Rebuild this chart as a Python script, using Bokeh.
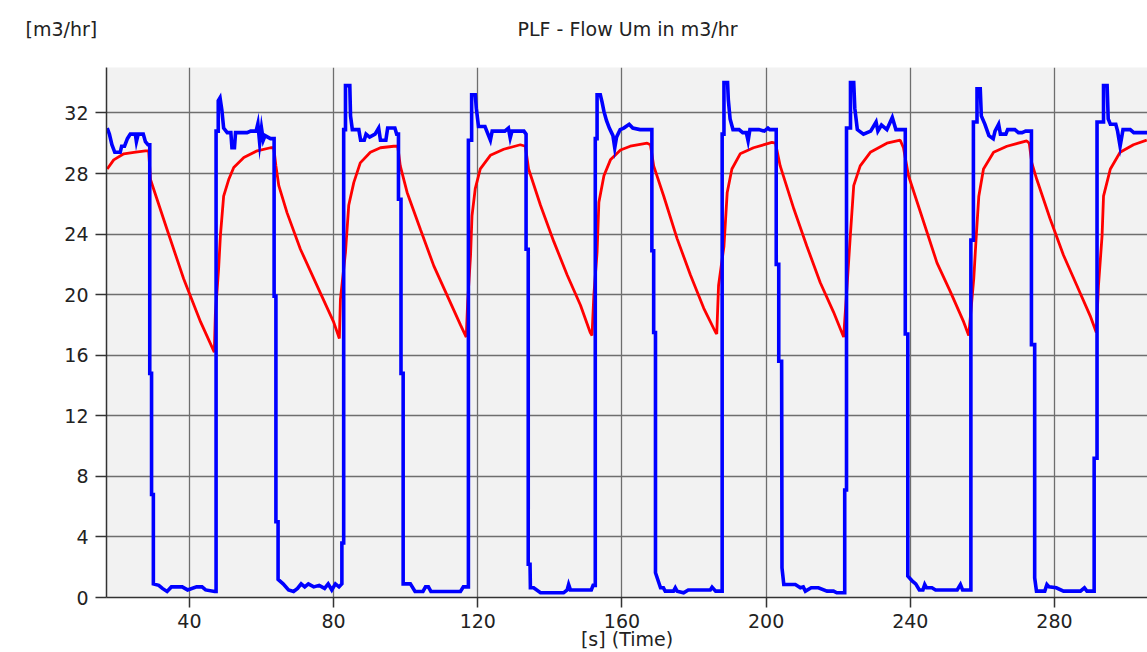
from bokeh.plotting import figure
from bokeh.models import Range1d, FixedTicker, Label
from bokeh.embed import file_html
from bokeh.resources import INLINE

# ---- data ----
x_ticks = [40, 80, 120, 160, 200, 240, 280]
y_ticks = [0, 4, 8, 12, 16, 20, 24, 28, 32]

title_text = "PLF - Flow Um in m3/hr"
y_unit_text = "[m3/hr]"
x_label_text = "[s] (Time)"

blue_t = [17.2, 17.8, 18.5, 19.3, 20.8, 21.2, 22.0, 22.8, 23.6, 25.0, 25.3, 25.8, 27.2, 27.8, 28.5,
          29.0, 29.0, 29.5, 29.5, 30.0, 30.0, 31.5, 32.5, 33.8, 35.0, 38.0, 39.5, 42.0, 43.5, 44.5, 47.0,
          47.4, 47.4, 48.0, 48.0, 48.5, 49.0, 49.5, 50.5, 51.5, 51.8, 52.5, 52.8, 56.0, 57.0, 58.5, 59.0,
          59.5, 60.0, 60.5, 61.0, 62.5, 63.5,
          63.5, 64.0, 64.0, 64.6, 64.6, 66.0, 67.5, 68.9, 70.0, 71.0, 72.0, 73.0, 74.5, 76.0, 77.5, 78.5,
          79.5, 80.5, 81.5, 82.3,
          82.3, 82.8, 82.8, 83.3, 83.3, 84.5, 84.7, 85.2, 87.0, 87.5, 88.5, 89.0, 90.0, 91.5, 92.5, 93.0,
          94.5, 95.0, 97.0, 97.5, 98.0,
          98.0, 98.7, 98.7, 99.3, 99.3, 101.3, 102.6, 104.8, 105.5, 106.3, 107.0, 115.2, 116.0, 117.4,
          117.4, 118.3, 118.3, 119.3, 119.6, 120.2, 122.0, 122.5, 123.5, 124.0, 127.5, 128.5, 129.0, 129.5,
          132.8, 133.4,
          133.4, 134.0, 134.0, 134.5, 134.6, 135.5, 137.4, 143.8, 144.8, 145.2, 145.7, 151.5, 152.0, 152.6,
          152.6, 153.1, 153.1, 154.0, 154.5, 155.0, 155.7, 156.5, 157.5, 158.0, 158.5, 159.5, 160.5, 162.0,
          163.0, 165.0, 168.3,
          168.3, 168.8, 168.8, 169.3, 169.3, 170.7, 171.5, 172.0, 174.3, 174.8, 175.3, 177.1, 178.4, 184.5,
          185.0, 186.0, 187.8,
          187.8, 188.3, 188.3, 189.3, 189.5, 190.0, 190.8, 192.5, 193.5, 194.5, 195.0, 195.5, 198.0, 199.5,
          200.5, 201.0, 202.8,
          202.8, 203.5, 203.5, 204.3, 204.4, 204.9, 208.1, 209.5, 210.3, 210.9, 212.5, 214.5, 216.9, 218.7,
          219.6, 221.8,
          221.8, 222.3, 222.3, 223.4, 223.4, 224.3, 224.6, 225.3, 227.0, 229.0, 230.5, 231.0, 232.0, 233.5,
          235.0, 236.0, 238.6,
          238.6, 239.3, 239.3, 240.5, 241.5, 242.5, 243.5, 244.0, 244.5, 246.0, 247.0, 253.0, 253.9, 254.5,
          256.8,
          256.8, 257.5, 257.5, 258.5, 258.5, 259.4, 259.7, 260.7, 261.8, 263.0, 263.5, 264.5, 265.0, 266.5,
          267.0, 269.0, 270.0, 271.0, 272.0, 273.6,
          273.6, 274.5, 274.5, 275.0, 277.3, 277.9, 278.5, 280.5, 282.5, 287.2, 288.3, 289.0, 291.0,
          291.0, 291.8, 291.8, 293.6, 293.6, 294.6, 294.9, 295.5, 297.0, 297.5, 298.2, 299.0, 301.0, 302.0,
          306.0]
blue_v = [31.0, 30.6, 29.9, 29.4, 29.4, 29.8, 29.8, 30.3, 30.6, 30.6, 30.1, 30.6, 30.6, 30.1, 29.9,
          29.9, 14.8, 14.8, 6.8, 6.8, 0.9, 0.8, 0.6, 0.4, 0.7, 0.7, 0.5, 0.7, 0.7, 0.5, 0.4,
          0.4, 30.8, 30.8, 32.8, 33.0, 32.2, 31.0, 30.7, 30.7, 29.7, 29.7, 30.7, 30.7, 30.8, 30.8, 31.3,
          30.0, 31.0, 30.2, 30.5, 30.3, 30.3,
          19.9, 19.9, 5.0, 5.0, 1.2, 0.9, 0.5, 0.4, 0.6, 0.9, 0.7, 0.9, 0.7, 0.8, 0.6, 0.9,
          0.5, 0.9, 0.7, 0.9,
          3.6, 3.6, 30.9, 30.9, 33.8, 33.8, 31.8, 30.9, 30.9, 30.2, 30.2, 30.6, 30.4, 30.6, 31.0, 30.2,
          30.2, 31.0, 31.0, 30.6, 30.6,
          26.3, 26.3, 14.8, 14.8, 0.9, 0.9, 0.4, 0.4, 0.7, 0.7, 0.4, 0.4, 0.7, 0.7,
          30.2, 30.2, 33.2, 33.2, 32.3, 31.1, 31.1, 30.8, 30.2, 30.8, 30.8, 31.0, 30.35, 30.8,
          30.8, 30.6,
          23.0, 23.0, 2.2, 2.2, 0.64, 0.64, 0.31, 0.31, 0.5, 0.86, 0.5, 0.5, 0.8, 0.8,
          30.3, 30.3, 33.2, 33.2, 32.7, 32.1, 31.5, 31.0, 30.5, 29.7, 30.4, 30.9, 31.0, 31.25,
          31.0, 30.9, 30.9,
          22.9, 22.9, 17.5, 17.5, 1.63, 0.64, 0.64, 0.42, 0.42, 0.64, 0.42, 0.31, 0.5, 0.5,
          0.68, 0.42, 0.42,
          30.6, 30.6, 34.0, 34.0, 32.9, 31.6, 30.9, 30.9, 30.7, 30.7, 30.15, 30.9, 30.9, 30.8,
          31.0, 30.9, 30.9,
          22.0, 22.0, 15.6, 15.6, 1.96, 0.86, 0.86, 0.64, 0.7, 0.42, 0.64, 0.64, 0.42, 0.42,
          0.31, 0.31,
          7.1, 7.1, 31.0, 31.0, 34.0, 34.0, 32.3, 30.9, 30.6, 30.8, 31.4, 30.8, 31.2, 30.9,
          31.7, 30.9, 30.9,
          17.4, 17.4, 1.41, 1.1, 0.9, 0.5, 0.5, 0.86, 0.64, 0.64, 0.5, 0.5, 0.86, 0.5,
          0.5,
          23.6, 23.6, 31.4, 31.4, 33.6, 33.6, 31.8, 31.25, 30.5, 30.3, 30.8, 31.25, 30.6, 30.6,
          30.9, 30.9, 30.7, 30.7, 30.8, 30.8,
          16.7, 16.7, 1.3, 0.42, 0.42, 0.86, 0.7, 0.64, 0.42, 0.42, 0.64, 0.42, 0.42,
          9.2, 9.2, 31.4, 31.4, 33.8, 33.8, 31.6, 31.25, 31.25, 30.8, 29.8, 30.9, 30.9, 30.7,
          30.7]

red_t = [17.2, 19.0, 21.8, 24.6, 27.8, 28.7, 29.2, 33.8, 38.4, 43.1, 46.9,
         47.2, 48.1, 48.6, 49.5, 50.9, 52.3, 55.1, 58.8, 62.5, 63.4,
         64.0, 64.8, 67.1, 70.8, 75.4, 80.0, 81.6,
         81.9, 83.3, 84.2, 85.6, 87.4, 90.2, 93.0, 96.7, 97.8,
         98.5, 100.4, 104.1, 107.8, 111.5, 115.2, 116.8,
         117.2, 118.0, 118.4, 119.3, 120.7, 123.5, 127.2, 131.8, 133.2,
         134.1, 137.4, 141.1, 144.8, 148.5, 151.2, 151.7,
         152.2, 153.1, 153.6, 155.0, 156.8, 159.6, 162.3, 167.0, 167.9,
         168.8, 171.6, 175.3, 179.0, 182.7, 186.0, 186.3,
         186.8, 188.3, 189.2, 190.5, 192.8, 196.5, 201.6, 202.6,
         203.9, 207.7, 211.3, 215.0, 218.7, 221.5,
         222.4, 223.3, 224.3, 226.1, 228.9, 233.5, 237.2, 238.1,
         239.5, 243.7, 247.4, 251.1, 254.8, 256.2,
         257.6, 258.3, 259.0, 260.3, 263.1, 266.8, 272.3, 273.0,
         273.7, 275.1, 278.8, 282.5, 286.2, 289.9, 291.6,
         292.2, 293.2, 293.6, 295.5, 298.2, 301.9, 305.6]
red_v = [28.3, 28.9, 29.3, 29.4, 29.5, 29.5, 27.6, 24.3, 21.05, 18.2, 16.2,
         18.7, 21.7, 23.9, 26.5, 27.6, 28.4, 29.05, 29.5, 29.7, 29.7,
         28.5, 27.2, 25.4, 23.0, 20.6, 18.2, 17.1,
         19.7, 22.8, 25.9, 27.4, 28.7, 29.4, 29.7, 29.8, 29.8,
         28.5, 26.75, 24.3, 21.9, 19.95, 18.0, 17.2,
         19.5, 22.6, 25.2, 27.0, 28.3, 29.2, 29.6, 29.9, 29.8,
         28.3, 25.9, 23.5, 21.3, 19.3, 17.5, 17.3,
         19.95, 22.8, 26.1, 27.85, 28.9, 29.55, 29.8, 30.0, 29.9,
         28.5, 26.5, 23.7, 21.3, 19.1, 17.5, 17.4,
         20.6, 23.2, 26.75, 28.3, 29.3, 29.7, 30.05, 30.0,
         28.5, 25.65, 23.2, 20.8, 18.85, 17.2,
         20.4, 23.7, 27.2, 28.5, 29.4, 30.0, 30.2, 29.7,
         27.85, 24.8, 22.1, 20.2, 18.2, 17.3,
         21.05, 23.9, 26.5, 28.3, 29.4, 29.8, 30.15, 30.0,
         28.7, 27.6, 25.0, 22.6, 20.6, 18.6, 17.5,
         20.6, 23.9, 26.5, 28.3, 29.4, 29.9, 30.2]

# ---- figure ----
FONT = "DejaVu Sans"
TXT = "#222222"

p = figure(width=1147, height=652, output_backend="svg", toolbar_location=None,
           x_range=Range1d(17.0, 305.8), y_range=Range1d(0, 35.0),
           min_border_left=106, min_border_right=0, min_border_top=67, min_border_bottom=54)

p.background_fill_color = "#f2f2f2"
p.border_fill_color = "white"
p.outline_line_color = None

p.line(red_t, red_v, line_color="#ff0000", line_width=2.8)
p.line(blue_t, blue_v, line_color="#0000ff", line_width=3.6, line_join="miter")

for ax, ticks in ((p.xaxis[0], x_ticks), (p.yaxis[0], y_ticks)):
    ax.ticker = FixedTicker(ticks=ticks)
    ax.major_label_text_font = FONT
    ax.major_label_text_font_size = "19px"
    ax.major_label_text_color = TXT
    ax.axis_line_color = "#333333"
    ax.axis_line_width = 1.5
    ax.major_tick_line_color = "#333333"
    ax.major_tick_line_width = 1.5
    ax.major_tick_in = 0
    ax.minor_tick_line_color = None

p.xaxis.major_tick_out = 10
p.xaxis.major_label_standoff = 6
p.xaxis.axis_label = x_label_text
p.xaxis.axis_label_text_font = FONT
p.xaxis.axis_label_text_font_size = "19px"
p.xaxis.axis_label_text_font_style = "normal"
p.xaxis.axis_label_text_color = TXT
p.xaxis.axis_label_standoff = -3
p.yaxis.major_tick_out = 11
p.yaxis.major_label_standoff = 7

p.xgrid.ticker = FixedTicker(ticks=x_ticks)
p.ygrid.ticker = FixedTicker(ticks=y_ticks)
for g in (p.xgrid[0], p.ygrid[0]):
    g.grid_line_color = "#6e6e6e"
    g.grid_line_width = 1.3

label_style = dict(x_units="screen", y_units="screen", text_baseline="middle",
                   text_font=FONT, text_font_size="19px", text_color=TXT)
title_label = Label(x=521, y=39, text=title_text, text_align="center", **label_style)
unit_label = Label(x=-81, y=17, text=y_unit_text, text_align="left", **label_style)
p.add_layout(title_label, "above")
p.add_layout(unit_label, "above")

open("out.html", "w").write(file_html(p, INLINE))
